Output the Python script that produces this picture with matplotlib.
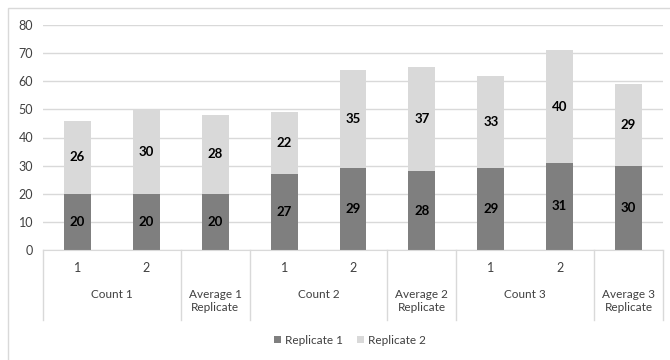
import matplotlib
matplotlib.use("Agg")
import matplotlib.pyplot as plt
import matplotlib.transforms as mtransforms
from matplotlib.patches import Rectangle

plt.rcParams['font.family'] = ['Lato', 'DejaVu Sans']

# Category structure
sub_labels = ["1", "2", "", "1", "2", "", "1", "2", ""]
groups = ["Count 1", "Average 1\nReplicate", "Count 2", "Average 2\nReplicate",
          "Count 3", "Average 3\nReplicate"]
group_sizes = [2, 1, 2, 1, 2, 1]

replicate1 = [20, 20, 20, 27, 29, 28, 29, 31, 30]
replicate2 = [26, 30, 28, 22, 35, 37, 33, 40, 29]

yticks = [0, 10, 20, 30, 40, 50, 60, 70, 80]

c_dark = "#7f7f7f"
c_light = "#d9d9d9"
c_grid = "#d9d9d9"
c_text = "#404040"

W, H = 670, 360
fig = plt.figure(figsize=(W / 100, H / 100), dpi=100)
ax = fig.add_axes([43 / W, 1 - 250 / H, 620 / W, 225 / H])

x = list(range(len(replicate1)))
width = 0.39
b1 = ax.bar(x, replicate1, width, color=c_dark, label="Replicate 1", zorder=2)
b2 = ax.bar(x, replicate2, width, bottom=replicate1, color=c_light,
            label="Replicate 2", zorder=2)

for i in x:
    ax.text(i, replicate1[i] / 2, str(replicate1[i]), ha="center", va="center",
            fontsize=9.5, fontweight="bold", color="black", zorder=3)
    ax.text(i, replicate1[i] + replicate2[i] / 2, str(replicate2[i]),
            ha="center", va="center", fontsize=9.5, fontweight="bold",
            color="black", zorder=3)

ax.set_xlim(-0.5, len(x) - 0.5)
ax.set_ylim(0, 80)
ax.set_yticks(yticks)
ax.yaxis.grid(True, color=c_grid, linewidth=1, zorder=0)
ax.set_axisbelow(True)
for s in ["left", "right", "top"]:
    ax.spines[s].set_visible(False)
ax.spines["bottom"].set_color(c_grid)
ax.tick_params(axis="y", length=0, pad=7, labelsize=9, labelcolor=c_text)
ax.tick_params(axis="x", length=0, labelbottom=False)

trans = mtransforms.blended_transform_factory(ax.transData, ax.transAxes)

# first-level labels
for i, lab in enumerate(sub_labels):
    if lab:
        ax.text(i, -0.08, lab, transform=trans, ha="center", va="center",
                fontsize=9, color=c_text)

# group labels and dividers
start = 0
bounds = [-0.5]
for g, n in zip(groups, group_sizes):
    center = start + (n - 1) / 2
    y = -0.196 if "\n" not in g else -0.228
    ax.text(center, y, g, transform=trans, ha="center", va="center",
            fontsize=8.5, color=c_text, linespacing=1.25)
    start += n
    bounds.append(start - 0.5)
for b in bounds:
    ax.plot([b, b], [0, -70 / 225], transform=trans, color=c_grid,
            linewidth=1, clip_on=False)

leg = fig.legend(handles=[b1, b2], loc="center", bbox_to_anchor=(350 / W, 1 - 340 / H),
                 ncol=2, frameon=False, fontsize=8.5, handlelength=0.6,
                 handleheight=0.6, handletextpad=0.3, columnspacing=1.2)
for t in leg.get_texts():
    t.set_color(c_text)

# chart border
fig.add_artist(Rectangle((8 / W, -0.1), 1.2, 1 - 8 / H + 0.1,
                         transform=fig.transFigure, fill=False,
                         edgecolor=c_grid, linewidth=1))

fig.savefig("out.png", dpi=100)
